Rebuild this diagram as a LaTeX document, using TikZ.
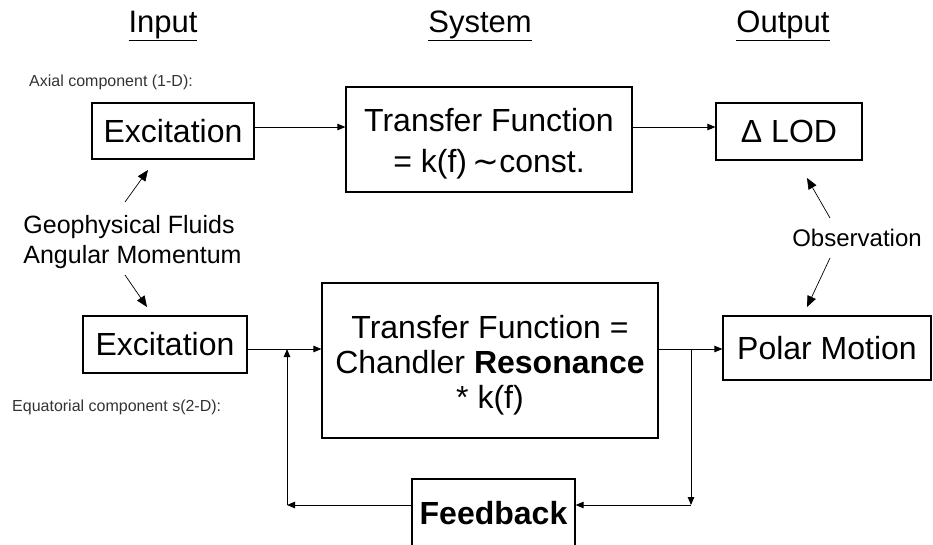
\documentclass[tikz,border=0pt]{standalone}
\usepackage{fontspec}
\setmainfont{Liberation Sans}
\newfontfamily\dejavu{DejaVu Sans}
\usetikzlibrary{arrows.meta}
\begin{document}
\begin{tikzpicture}[x=1pt,y=-1pt,
  box/.style={draw, line width=1.2pt, inner sep=0pt, align=center},
  arr/.style={line width=0.9pt, -{Triangle[length=8pt,width=6.5pt]}},
  darr/.style={line width=0.7pt, -{Triangle[length=11pt,width=9pt]}},
  big/.style={font=\fontsize{32}{38}\selectfont},
  boxtext/.style={inner sep=0pt, align=center},
  titlelbl/.style={font=\fontsize{31}{36}\selectfont, anchor=base, inner sep=0pt},
  smalllbl/.style={font=\fontsize{16}{19}\selectfont, anchor=west, text=black!80, inner sep=0pt},
]
\useasboundingbox (0,0) rectangle (933,544);

% titles
\node[titlelbl] (tin) at (163,32) {\underline{Input}};
\node[titlelbl] (tsys) at (480,32) {\underline{System}};
\node[titlelbl] (tout) at (783,32) {\underline{Output}};

% boxes
\node[box, big, minimum width=162pt, minimum height=56pt] (exA) at (173,131) {Excitation};
\node[box, minimum width=286pt, minimum height=105pt] (tfA) at (489,139.5) {};
\node[boxtext, font=\fontsize{32}{41}\selectfont] (tfAt) at (489,144) {Transfer Function\\ = k(f)\,{\dejavu ∼}const.};
\node[box, big, minimum width=146pt, minimum height=57pt] (lod) at (789,131.5) {Δ LOD};
\node[box, big, minimum width=164pt, minimum height=57pt] (exE) at (165,344.5) {Excitation};
\node[box, minimum width=336pt, minimum height=155pt] (tfE) at (490,360.5) {};
\node[boxtext, font=\fontsize{32}{35}\selectfont] (tfEt) at (490,365) {Transfer Function =\\ Chandler \textbf{Resonance}\\ * k(f)};
\node[box, big, minimum width=208pt, minimum height=64pt] (pm) at (827,348) {Polar Motion};
\node[box, big, minimum width=163pt, minimum height=68pt] (fb) at (493.5,513) {\textbf{Feedback}};

% labels
\node[smalllbl] (axl) at (29,82) {Axial component (1-D):};
\node[smalllbl] (eql) at (12,407) {Equatorial component s(2-D):};
\node[font=\fontsize{25}{30}\selectfont, align=left, inner sep=0pt] (gfam) at (132.5,242) {Geophysical Fluids\\Angular Momentum};
\node[font=\fontsize{24}{28}\selectfont, inner sep=0pt] (obs) at (857,238) {Observation};

% helper coordinates
\coordinate (g1s) at (125,202); \coordinate (g1e) at (148,170);
\coordinate (g2s) at (125,275); \coordinate (g2e) at (147,307);
\coordinate (o1s) at (830,218); \coordinate (o1e) at (807,178);
\coordinate (o2s) at (830,258); \coordinate (o2e) at (807,307);
\coordinate (yA) at (0,127); \coordinate (yE) at (0,349); \coordinate (yF) at (0,505);
\coordinate (j1) at (287,349); \coordinate (j2) at (691,349);
\coordinate (c1) at (287,505); \coordinate (c2) at (691,505);

% connectors
\draw[arr] (exA.east |- yA) -- (tfA.west |- yA);
\draw[arr] (tfA.east |- yA) -- (lod.west |- yA);
\draw[arr] (exE.east |- yE) -- (tfE.west |- yE);
\draw[arr] (tfE.east |- yE) -- (pm.west |- yE);
\draw[arr] (j2) -- (c2);
\draw[arr] (c2) -- (fb.east |- yF);
\draw[arr] (fb.west |- yF) -- (c1);
\draw[arr] (c1) -- (j1);

\draw[darr] (g1s) -- (g1e);
\draw[darr] (g2s) -- (g2e);
\draw[darr] (o1s) -- (o1e);
\draw[darr] (o2s) -- (o2e);
\end{tikzpicture}
\end{document}
